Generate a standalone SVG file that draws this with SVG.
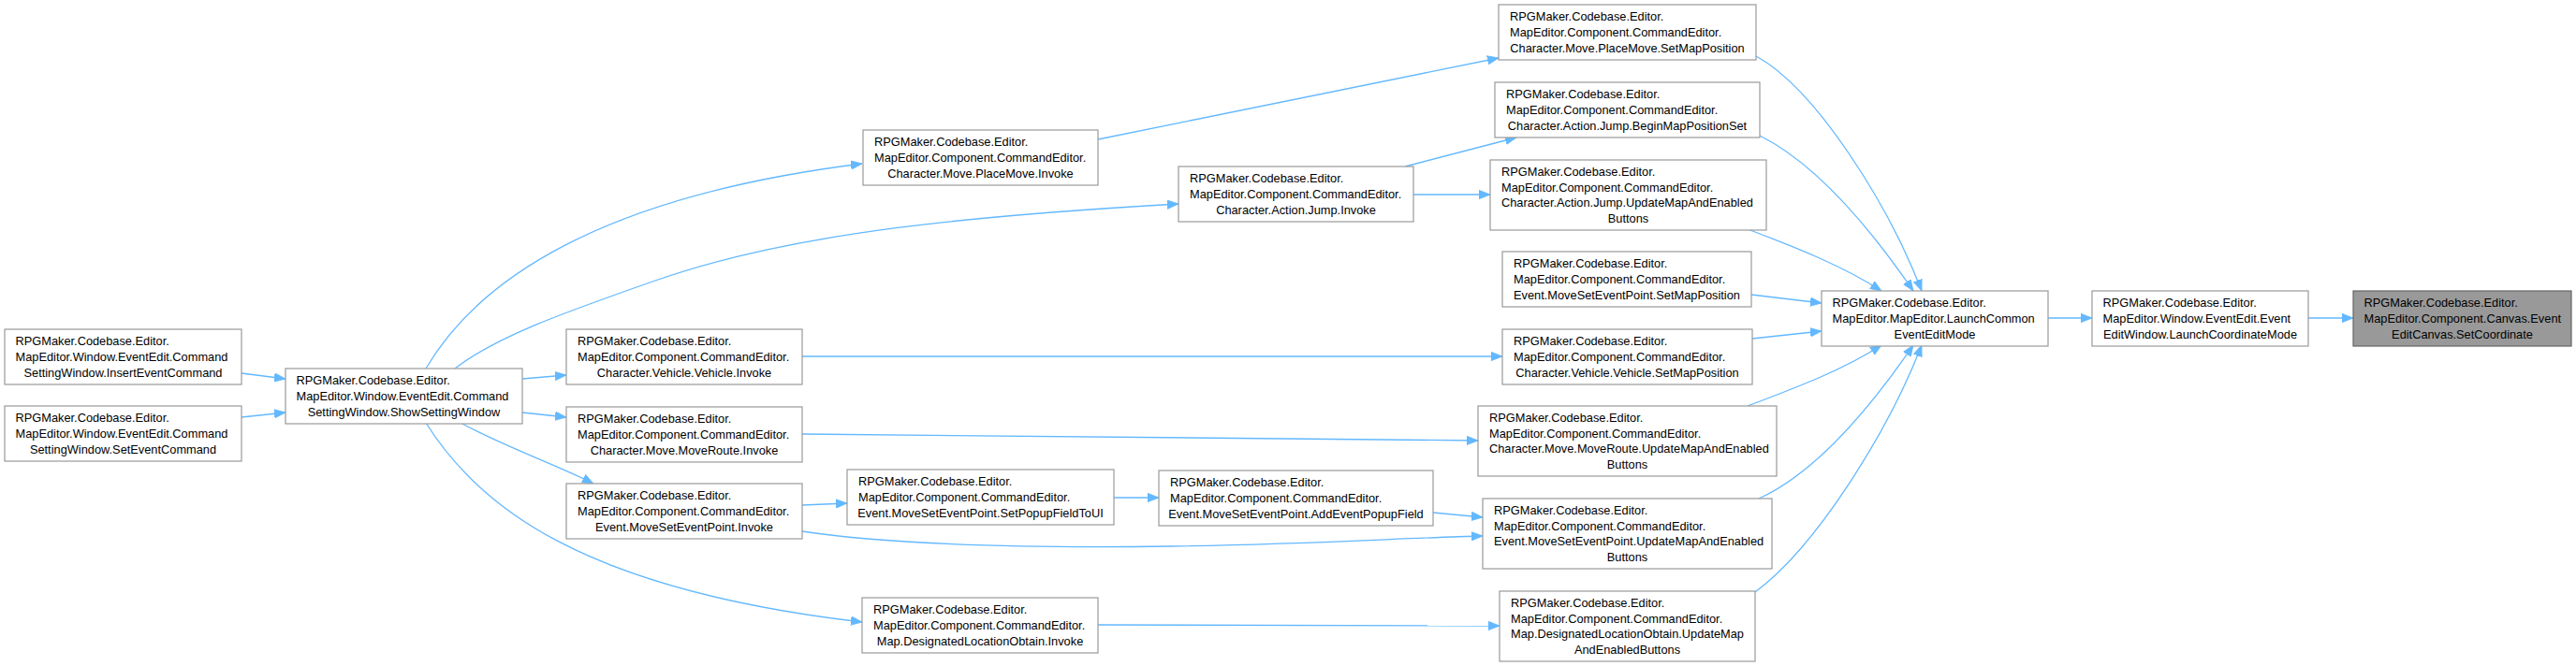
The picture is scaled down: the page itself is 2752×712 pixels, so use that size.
<svg xmlns="http://www.w3.org/2000/svg" width="2752" height="712" viewBox="0 0 2752 712">
<style>
.node rect{fill:#ffffff;stroke:#999999;stroke-width:1.2}
.node.hl rect{fill:#999999;stroke:#666666}
.node text{font-family:"Liberation Sans",Arial,sans-serif;font-size:12.8px;fill:#000000}
.node text .c{text-anchor:middle}
#edges path{fill:none;stroke:#63b8ff;stroke-width:1.3;marker-end:url(#arr)}
</style>
<defs>
<marker id="arr" markerUnits="userSpaceOnUse" viewBox="0 0 12 10" markerWidth="12" markerHeight="10" refX="12" refY="5" orient="auto">
<path d="M0,0.3 L12,5 L0,9.7 z" fill="#63b8ff" stroke="#63b8ff" stroke-width="0.8"/>
</marker>
</defs>
<rect width="2752" height="712" fill="#ffffff"/>
<g id="edges">
<path d="M258,399 L305,405"/>
<path d="M258,446 L305,441"/>
<path d="M455,394 C510,300 640,210 921,175"/>
<path d="M486,394 C530,360 600,335 700,300 C850,247 1050,230 1259,218"/>
<path d="M558,405 L605,401"/>
<path d="M558,441 L605,446"/>
<path d="M492,452 C540,478 595,497 634,517"/>
<path d="M455,452 C510,540 620,630 921,665"/>
<path d="M1173,149 L1601,62"/>
<path d="M1501,178 L1620,147"/>
<path d="M1510,208 L1592,208"/>
<path d="M857,381 L1605,381"/>
<path d="M857,464 L1579,471"/>
<path d="M857,540 L905,538"/>
<path d="M857,568 C950,582 1100,586 1250,584 C1400,582 1500,575 1584,573"/>
<path d="M1190,532 L1238,532"/>
<path d="M1531,548 L1584,553"/>
<path d="M1173,668 L1602,669"/>
<path d="M1876,60 C1940,95 2017,218 2053,311"/>
<path d="M1880,145 C1930,170 1985,225 2044,311"/>
<path d="M1867,245 C1920,265 1970,285 2010,311"/>
<path d="M1871,315 L1946,324"/>
<path d="M1872,362 L1946,354"/>
<path d="M1867,434 C1920,414 1970,395 2010,369"/>
<path d="M1879,533 C1930,510 1985,455 2044,369"/>
<path d="M1875,633 C1940,585 2017,462 2053,369"/>
<path d="M2188,340 L2235,340"/>
<path d="M2466,340 L2514,340"/>
</g>
<g id="n_insert" class="node"><rect x="5" y="352" width="253" height="59"/><text><tspan x="16.5" y="369.3">RPGMaker.Codebase.Editor.</tspan><tspan x="16.5" y="386">MapEditor.Window.EventEdit.Command</tspan><tspan class="c" x="131.5" y="402.7">SettingWindow.InsertEventCommand</tspan></text></g>
<g id="n_setevent" class="node"><rect x="5" y="434" width="253" height="59"/><text><tspan x="16.5" y="451.3">RPGMaker.Codebase.Editor.</tspan><tspan x="16.5" y="468">MapEditor.Window.EventEdit.Command</tspan><tspan class="c" x="131.5" y="484.7">SettingWindow.SetEventCommand</tspan></text></g>
<g id="n_show" class="node"><rect x="305" y="394" width="253" height="59"/><text><tspan x="316.5" y="411.3">RPGMaker.Codebase.Editor.</tspan><tspan x="316.5" y="428">MapEditor.Window.EventEdit.Command</tspan><tspan class="c" x="431.5" y="444.7">SettingWindow.ShowSettingWindow</tspan></text></g>
<g id="n_vehinv" class="node"><rect x="605" y="352" width="252" height="59"/><text><tspan x="617" y="369.3">RPGMaker.Codebase.Editor.</tspan><tspan x="617" y="386">MapEditor.Component.CommandEditor.</tspan><tspan class="c" x="731" y="402.7">Character.Vehicle.Vehicle.Invoke</tspan></text></g>
<g id="n_mrinv" class="node"><rect x="605" y="435" width="252" height="59"/><text><tspan x="617" y="452.3">RPGMaker.Codebase.Editor.</tspan><tspan x="617" y="469">MapEditor.Component.CommandEditor.</tspan><tspan class="c" x="731" y="485.7">Character.Move.MoveRoute.Invoke</tspan></text></g>
<g id="n_msepinv" class="node"><rect x="605" y="517" width="252" height="59"/><text><tspan x="617" y="534.3">RPGMaker.Codebase.Editor.</tspan><tspan x="617" y="551">MapEditor.Component.CommandEditor.</tspan><tspan class="c" x="731" y="567.7">Event.MoveSetEventPoint.Invoke</tspan></text></g>
<g id="n_pminv" class="node"><rect x="922" y="139" width="251" height="59"/><text><tspan x="934" y="156.3">RPGMaker.Codebase.Editor.</tspan><tspan x="934" y="173">MapEditor.Component.CommandEditor.</tspan><tspan class="c" x="1047.5" y="189.7">Character.Move.PlaceMove.Invoke</tspan></text></g>
<g id="n_popup" class="node"><rect x="905" y="502" width="285" height="59"/><text><tspan x="917" y="519.3">RPGMaker.Codebase.Editor.</tspan><tspan x="917" y="536">MapEditor.Component.CommandEditor.</tspan><tspan class="c" x="1047.5" y="552.7">Event.MoveSetEventPoint.SetPopupFieldToUI</tspan></text></g>
<g id="n_dloinv" class="node"><rect x="921" y="639" width="252" height="59"/><text><tspan x="933" y="656.3">RPGMaker.Codebase.Editor.</tspan><tspan x="933" y="673">MapEditor.Component.CommandEditor.</tspan><tspan class="c" x="1047" y="689.7">Map.DesignatedLocationObtain.Invoke</tspan></text></g>
<g id="n_jumpinv" class="node"><rect x="1259" y="178" width="251" height="59"/><text><tspan x="1271" y="195.3">RPGMaker.Codebase.Editor.</tspan><tspan x="1271" y="212">MapEditor.Component.CommandEditor.</tspan><tspan class="c" x="1384.5" y="228.7">Character.Action.Jump.Invoke</tspan></text></g>
<g id="n_addpopup" class="node"><rect x="1238" y="503" width="293" height="59"/><text><tspan x="1250" y="520.3">RPGMaker.Codebase.Editor.</tspan><tspan x="1250" y="537">MapEditor.Component.CommandEditor.</tspan><tspan class="c" x="1384.5" y="553.7">Event.MoveSetEventPoint.AddEventPopupField</tspan></text></g>
<g id="n_pmset" class="node"><rect x="1601" y="5" width="275" height="59"/><text><tspan x="1613" y="22.3">RPGMaker.Codebase.Editor.</tspan><tspan x="1613" y="39">MapEditor.Component.CommandEditor.</tspan><tspan class="c" x="1738.5" y="55.7">Character.Move.PlaceMove.SetMapPosition</tspan></text></g>
<g id="n_jumpbegin" class="node"><rect x="1597" y="88" width="283" height="59"/><text><tspan x="1609" y="105.3">RPGMaker.Codebase.Editor.</tspan><tspan x="1609" y="122">MapEditor.Component.CommandEditor.</tspan><tspan class="c" x="1738.5" y="138.7">Character.Action.Jump.BeginMapPositionSet</tspan></text></g>
<g id="n_jumpupd" class="node"><rect x="1592" y="171" width="295" height="75"/><text><tspan x="1604" y="188">RPGMaker.Codebase.Editor.</tspan><tspan x="1604" y="204.7">MapEditor.Component.CommandEditor.</tspan><tspan x="1604" y="221.3">Character.Action.Jump.UpdateMapAndEnabled</tspan><tspan class="c" x="1739.5" y="238">Buttons</tspan></text></g>
<g id="n_msepset" class="node"><rect x="1605" y="269" width="266" height="59"/><text><tspan x="1617" y="286.3">RPGMaker.Codebase.Editor.</tspan><tspan x="1617" y="303">MapEditor.Component.CommandEditor.</tspan><tspan class="c" x="1738" y="319.7">Event.MoveSetEventPoint.SetMapPosition</tspan></text></g>
<g id="n_vehset" class="node"><rect x="1605" y="352" width="267" height="59"/><text><tspan x="1617" y="369.3">RPGMaker.Codebase.Editor.</tspan><tspan x="1617" y="386">MapEditor.Component.CommandEditor.</tspan><tspan class="c" x="1738.5" y="402.7">Character.Vehicle.Vehicle.SetMapPosition</tspan></text></g>
<g id="n_mrupd" class="node"><rect x="1579" y="434" width="319" height="75"/><text><tspan x="1591" y="451">RPGMaker.Codebase.Editor.</tspan><tspan x="1591" y="467.7">MapEditor.Component.CommandEditor.</tspan><tspan x="1591" y="484.3">Character.Move.MoveRoute.UpdateMapAndEnabled</tspan><tspan class="c" x="1738.5" y="501">Buttons</tspan></text></g>
<g id="n_msepupd" class="node"><rect x="1584" y="533" width="309" height="75"/><text><tspan x="1596" y="550">RPGMaker.Codebase.Editor.</tspan><tspan x="1596" y="566.7">MapEditor.Component.CommandEditor.</tspan><tspan x="1596" y="583.3">Event.MoveSetEventPoint.UpdateMapAndEnabled</tspan><tspan class="c" x="1738.5" y="600">Buttons</tspan></text></g>
<g id="n_dloupd" class="node"><rect x="1602" y="632" width="273" height="75"/><text><tspan x="1614" y="649">RPGMaker.Codebase.Editor.</tspan><tspan x="1614" y="665.7">MapEditor.Component.CommandEditor.</tspan><tspan x="1614" y="682.3">Map.DesignatedLocationObtain.UpdateMap</tspan><tspan class="c" x="1738.5" y="699">AndEnabledButtons</tspan></text></g>
<g id="n_lc" class="node"><rect x="1946" y="311" width="242" height="59"/><text><tspan x="1957.5" y="328.3">RPGMaker.Codebase.Editor.</tspan><tspan x="1957.5" y="345">MapEditor.MapEditor.LaunchCommon</tspan><tspan class="c" x="2067" y="361.7">EventEditMode</tspan></text></g>
<g id="n_lcm" class="node"><rect x="2235" y="311" width="231" height="59"/><text><tspan x="2246.5" y="328.3">RPGMaker.Codebase.Editor.</tspan><tspan x="2246.5" y="345">MapEditor.Window.EventEdit.Event</tspan><tspan class="c" x="2350.5" y="361.7">EditWindow.LaunchCoordinateMode</tspan></text></g>
<g id="n_setc" class="node hl"><rect x="2514" y="311" width="233" height="59"/><text><tspan x="2525.5" y="328.3">RPGMaker.Codebase.Editor.</tspan><tspan x="2525.5" y="345">MapEditor.Component.Canvas.Event</tspan><tspan class="c" x="2630.5" y="361.7">EditCanvas.SetCoordinate</tspan></text></g>
</svg>
